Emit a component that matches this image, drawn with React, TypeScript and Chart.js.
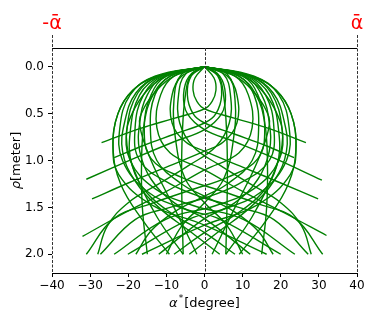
import React, { useEffect, useRef } from 'react';
import { Chart, registerables } from 'chart.js';

Chart.register(...registerables);

const xTicks = [-40, -30, -20, -10, 0, 10, 20, 30, 40];
const yTicks = [0, 0.5, 1.0, 1.5, 2.0];
const guideValues = [-40, 0, 40];
const boundLabels = ['-\u1FB1', '\u1FB1'];
const boundValues = [-40, 40];

// curves whose dome opens to the right and which finish on the left
const curveR1 = [[0, 0], [2.5, 0.12], [3, 0.25], [2, 0.37], [0, 0.45], [-8, 0.55], [-17, 0.66], [-27, 0.81]];
const curveR2 = [[0, 0], [4, 0.1], [5.5, 0.3], [4.5, 0.5], [0, 0.67], [-8, 0.8], [-18, 0.97], [-31, 1.2]];
const curveR3 = [[0, 0], [6, 0.1], [8.5, 0.3], [8.5, 0.6], [5, 0.8], [0, 0.9], [-10, 1.07], [-20, 1.24], [-29.5, 1.41]];
const curveR4 = [[0, 0], [8, 0.1], [11.5, 0.3], [12.5, 0.65], [9, 0.92], [0, 1.1], [-10, 1.33], [-21, 1.56], [-32, 1.81]];
const curveR5 = [[0, 0], [10, 0.1], [14, 0.3], [15.8, 0.65], [14, 0.98], [6, 1.18], [-4, 1.32], [-14, 1.46], [-23.8, 1.62], [-31, 2.0]];
const curveR6 = [[0, 0], [11, 0.1], [16, 0.3], [18.2, 0.65], [17, 1.0], [9, 1.25], [0, 1.4], [-9, 1.5], [-18.2, 1.63], [-27.3, 2.0]];
const curveR7 = [[0, 0], [12, 0.1], [17.5, 0.28], [20.3, 0.65], [19.5, 1.0], [13, 1.3], [3, 1.48], [-10.3, 1.63], [-23.7, 2.0]];
const curveR8 = [[0, 0], [13, 0.1], [19.5, 0.3], [22.2, 0.65], [21.5, 1.0], [15, 1.33], [5, 1.52], [-3.7, 1.62], [-20.1, 2.0]];
const curveR9 = [[0, 0], [12.5, 0.1], [18.8, 0.25], [22.7, 0.5], [24, 0.85], [22.5, 1.15], [14, 1.47], [0, 1.69], [-16.4, 2.0]];
const curveRa = [[0, 0], [3.5, 0.1], [4.5, 0.3], [3, 0.5], [0, 0.6], [-8, 0.72], [-16, 0.84], [-23.7, 0.97]];
const curveRb = [[0, 0], [9, 0.1], [13, 0.3], [14.2, 0.65], [12.5, 1.0], [6, 1.25], [0, 1.38], [-8, 1.55], [-14, 1.75], [-18, 2.0]];
const curveRc = [[0, 0], [11.5, 0.1], [17, 0.3], [19.5, 0.7], [19, 1.05], [15, 1.35], [8, 1.58], [0, 1.77], [-8, 2.0]];
const curveRd = [[0, 0], [6, 0.08], [8, 0.35], [7.5, 0.8], [5, 1.2], [0, 1.45], [-6, 1.7], [-10, 2.0]];
const curveRe = [[0, 0], [5, 0.08], [6.8, 0.3], [6.5, 0.6], [3, 0.85], [-4, 1.05], [-12, 1.25], [-20, 1.45], [-25.5, 1.7], [-28, 2.0]];
const curveRf = [[0, 0], [10.5, 0.1], [15, 0.3], [17, 0.6], [17, 0.9], [14, 1.2], [8, 1.45], [0, 1.62], [-12, 2.0]];
const curveRg = [[0, 0], [12, 0.1], [18, 0.28], [21, 0.6], [21.5, 0.9], [18.5, 1.2], [12, 1.5], [4, 1.75], [-4, 2.0]];
// curves whose dome opens to the left and which finish on the right
const curveL1 = [[0, 0], [-2.5, 0.12], [-3, 0.25], [-2, 0.37], [0, 0.45], [8, 0.55], [17, 0.66], [26.6, 0.81]];
const curveL2 = [[0, 0], [-4, 0.1], [-5.5, 0.3], [-4.5, 0.5], [0, 0.67], [8, 0.8], [18, 0.97], [30.8, 1.21]];
const curveL3 = [[0, 0], [-6, 0.1], [-8.5, 0.3], [-8.5, 0.6], [-5, 0.8], [0, 0.9], [10, 1.07], [20, 1.24], [29.8, 1.41]];
const curveL4 = [[0, 0], [-8, 0.1], [-11.5, 0.3], [-12.5, 0.65], [-9, 0.92], [0, 1.1], [10, 1.33], [21, 1.56], [32, 1.8]];
const curveL5 = [[0, 0], [-10, 0.1], [-14, 0.3], [-15.8, 0.65], [-14, 0.98], [-6, 1.18], [4, 1.32], [14, 1.46], [23.8, 1.62], [31, 2.0]];
const curveL6 = [[0, 0], [-11, 0.1], [-16, 0.3], [-18.2, 0.65], [-17, 1.0], [-9, 1.25], [0, 1.4], [9, 1.5], [18.2, 1.63], [27.2, 2.0]];
const curveL7 = [[0, 0], [-12, 0.1], [-17.5, 0.28], [-20.3, 0.65], [-19.5, 1.0], [-13, 1.3], [-3, 1.48], [10.3, 1.63], [23.7, 2.0]];
const curveL8 = [[0, 0], [-13, 0.1], [-19.5, 0.3], [-22.2, 0.65], [-21.5, 1.0], [-15, 1.33], [-5, 1.52], [3.7, 1.62], [20, 2.0]];
const curveL9 = [[0, 0], [-12.5, 0.1], [-18.8, 0.25], [-22.7, 0.5], [-24, 0.85], [-22.5, 1.15], [-14, 1.47], [0, 1.69], [16.3, 2.0]];
const curveLa = [[0, 0], [-3.5, 0.1], [-4.5, 0.3], [-3, 0.5], [0, 0.6], [8, 0.72], [16, 0.84], [23.5, 0.97]];
const curveLb = [[0, 0], [-9, 0.1], [-13, 0.3], [-14.2, 0.65], [-12.5, 1.0], [-6, 1.25], [0, 1.38], [8, 1.55], [14, 1.75], [18, 2.0]];
const curveLc = [[0, 0], [-11.5, 0.1], [-17, 0.3], [-19.5, 0.7], [-19, 1.05], [-15, 1.35], [-8, 1.58], [0, 1.77], [8, 2.0]];
const curveLd = [[0, 0], [-6, 0.08], [-8, 0.35], [-7.5, 0.8], [-5, 1.2], [0, 1.45], [6, 1.7], [10, 2.0]];
const curveLe = [[0, 0], [-5, 0.08], [-6.8, 0.3], [-6.5, 0.6], [-3, 0.85], [4, 1.05], [12, 1.25], [20, 1.45], [25.5, 1.7], [28, 2.0]];
const curveLf = [[0, 0], [-10.5, 0.1], [-15, 0.3], [-17, 0.6], [-17, 0.9], [-14, 1.2], [-8, 1.45], [0, 1.62], [12, 2.0]];
const curveLg = [[0, 0], [-12, 0.1], [-18, 0.28], [-21, 0.6], [-21.5, 0.9], [-18.5, 1.2], [-12, 1.5], [-4, 1.75], [4, 2.0]];
// curves that stay on their side and come back towards the centre
const curveQL1 = [[0, 0], [-12.5, 0.1], [-18.8, 0.25], [-22.7, 0.5], [-24, 0.85], [-22, 1.25], [-16, 1.65], [-9.2, 2.0]];
const curveQL2 = [[0, 0], [-10, 0.1], [-15, 0.25], [-19, 0.5], [-20.5, 0.75], [-18.5, 1.1], [-12.5, 1.6], [-5.6, 2.0]];
const curveQL3 = [[0, 0], [-8, 0.1], [-12.5, 0.25], [-16, 0.45], [-17, 0.62], [-14, 1.0], [-8, 1.5], [-2, 2.0]];
const curveQR1 = [[0, 0], [12.5, 0.1], [18.8, 0.25], [22.7, 0.5], [24, 0.85], [22, 1.25], [16, 1.65], [9.1, 2.0]];
const curveQR2 = [[0, 0], [10, 0.1], [15, 0.25], [19, 0.5], [20.5, 0.75], [18.5, 1.1], [12.5, 1.6], [5.6, 2.0]];
const curveQR3 = [[0, 0], [8, 0.1], [12.5, 0.25], [16, 0.45], [17, 0.62], [14, 1.0], [8, 1.5], [2, 2.0]];
// near-vertical ridges
const curveTL1 = [[0, 0], [-3.5, 0.08], [-5, 0.3], [-5.8, 0.7], [-6, 1.2], [-5.6, 2.0]];
const curveTL2 = [[0, 0], [-9, 0.1], [-13.5, 0.3], [-15.8, 0.6], [-16.5, 1.0], [-16.3, 1.5], [-15, 2.0]];
const curveTR1 = [[0, 0], [3.5, 0.08], [5, 0.3], [5.8, 0.7], [6, 1.2], [5.6, 2.0]];
const curveTR2 = [[0, 0], [9, 0.1], [13.5, 0.3], [15.8, 0.6], [16.5, 1.0], [16.3, 1.5], [15, 2.0]];

const curves = [
  curveR1, curveR2, curveR3, curveR4, curveR5, curveR6, curveR7, curveR8, curveR9,
  curveRa, curveRb, curveRc, curveRd, curveRe, curveRf, curveRg,
  curveL1, curveL2, curveL3, curveL4, curveL5, curveL6, curveL7, curveL8, curveL9,
  curveLa, curveLb, curveLc, curveLd, curveLe, curveLf, curveLg,
  curveQL1, curveQL2, curveQL3, curveQR1, curveQR2, curveQR3,
  curveTL1, curveTL2, curveTR1, curveTR2,
];

const FONT = '"DejaVu Sans", sans-serif';

const fmtX = (v: number) => (v < 0 ? '\u2212' + Math.abs(v) : String(v));

const overlay = {
  id: 'overlay',
  afterDatasetsDraw(chart: any) {
    const { ctx, chartArea, scales } = chart;
    const x = scales.x;
    ctx.save();
    ctx.strokeStyle = '#000';
    ctx.lineWidth = 1;
    ctx.beginPath();
    ctx.moveTo(chartArea.left, Math.round(chartArea.top) + 0.5);
    ctx.lineTo(chartArea.right, Math.round(chartArea.top) + 0.5);
    ctx.stroke();

    ctx.setLineDash([3, 1.5]);
    ctx.strokeStyle = '#333';
    for (const g of guideValues) {
      const px = Math.round(x.getPixelForValue(g)) + 0.5;
      const top = g === 0 ? chartArea.top : 35;
      ctx.beginPath();
      ctx.moveTo(px, top);
      ctx.lineTo(px, chartArea.bottom);
      ctx.stroke();
    }
    ctx.setLineDash([]);

    ctx.fillStyle = '#ff0000';
    ctx.font = `19px ${FONT}`;
    ctx.textAlign = 'center';
    ctx.textBaseline = 'alphabetic';
    boundValues.forEach((v, i) => {
      ctx.fillText(boundLabels[i], x.getPixelForValue(v), 29);
    });

    // x title: alpha^* [degree]
    ctx.fillStyle = '#000';
    ctx.textAlign = 'left';
    const a = '\u03B1';
    const star = '*';
    const rest = '[degree]';
    ctx.font = `italic 13px ${FONT}`;
    const wa = ctx.measureText(a).width;
    ctx.font = `9px ${FONT}`;
    const ws = ctx.measureText(star).width;
    ctx.font = `13px ${FONT}`;
    const wr = ctx.measureText(rest).width;
    const total = wa + ws + 2 + wr;
    const cx = (chartArea.left + chartArea.right) / 2;
    let sx = cx - total / 2;
    const by = 307;
    ctx.font = `italic 13px ${FONT}`;
    ctx.fillText(a, sx, by);
    sx += wa + 1;
    ctx.font = `9px ${FONT}`;
    ctx.fillText(star, sx, by - 6);
    sx += ws + 1;
    ctx.font = `13px ${FONT}`;
    ctx.fillText(rest, sx, by);

    // y title: rho [meter]
    ctx.save();
    ctx.translate(20, (chartArea.top + chartArea.bottom) / 2);
    ctx.rotate(-Math.PI / 2);
    const r = '\u03C1';
    const rest2 = '[meter]';
    ctx.font = `italic 13px ${FONT}`;
    const wr1 = ctx.measureText(r).width;
    ctx.font = `13px ${FONT}`;
    const wr2 = ctx.measureText(rest2).width;
    let ty = -(wr1 + wr2) / 2;
    ctx.font = `italic 13px ${FONT}`;
    ctx.fillText(r, ty, 0);
    ty += wr1;
    ctx.font = `13px ${FONT}`;
    ctx.fillText(rest2, ty, 0);
    ctx.restore();

    ctx.restore();
  },
};

export default function App() {
  const ref = useRef<HTMLCanvasElement>(null);
  useEffect(() => {
    document.body.style.margin = '0';
    const chart = new Chart(ref.current as HTMLCanvasElement, {
      type: 'scatter',
      data: {
        datasets: curves.map((c) => ({
          data: c.map(([a, r]) => ({ x: a, y: r })),
          showLine: true,
          borderColor: '#008000',
          backgroundColor: '#008000',
          borderWidth: 1.4,
          pointRadius: 0,
          tension: 0.4,
          fill: false,
        })),
      },
      options: {
        animation: false,
        responsive: false,
        devicePixelRatio: 1,
        layout: { padding: { left: 0, right: 17, top: 48, bottom: 0 } },
        plugins: { legend: { display: false }, tooltip: { enabled: false } },
        scales: {
          x: {
            type: 'linear',
            min: -40,
            max: 40,
            afterBuildTicks: (s: any) => {
              s.ticks = xTicks.map((v) => ({ value: v }));
            },
            afterFit: (s: any) => {
              s.height = 47;
            },
            grid: { display: true, drawOnChartArea: false, drawTicks: true, tickLength: 4, color: '#000' },
            border: { display: true, color: '#000', width: 1 },
            ticks: {
              color: '#000',
              font: { family: FONT, size: 12 },
              padding: 2,
              maxRotation: 0,
              autoSkip: false,
              callback: (v: any) => fmtX(Number(v)),
            },
          },
          y: {
            type: 'linear',
            reverse: true,
            min: -0.2,
            max: 2.2,
            afterBuildTicks: (s: any) => {
              s.ticks = yTicks.map((v) => ({ value: v }));
            },
            afterFit: (s: any) => {
              s.width = 52;
            },
            grid: { display: true, drawOnChartArea: false, drawTicks: true, tickLength: 4, color: '#000' },
            border: { display: false },
            ticks: {
              color: '#000',
              font: { family: FONT, size: 12 },
              padding: 4,
              autoSkip: false,
              callback: (v: any) => Number(v).toFixed(1),
            },
          },
        },
      },
      plugins: [overlay],
    });
    return () => chart.destroy();
  }, []);
  return <canvas ref={ref} width={374} height={320} style={{ display: 'block' }} />;
}
